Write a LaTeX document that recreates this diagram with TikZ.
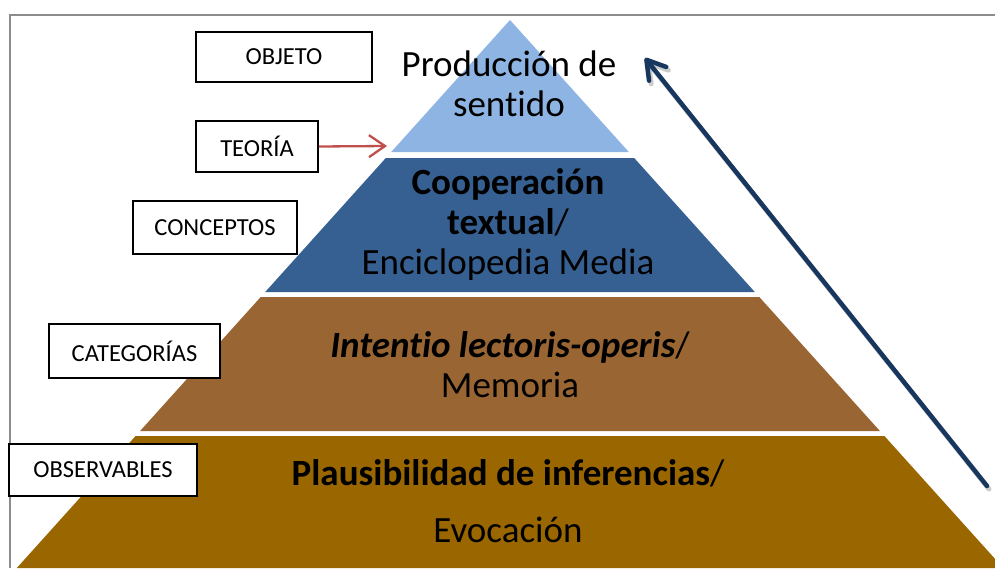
\documentclass[tikz,border=0pt]{standalone}
\usepackage{fontspec}
\setmainfont{Carlito}[Ligatures=NoCommon]
\usetikzlibrary{arrows.meta}
\definecolor{lblue}{HTML}{8DB4E2}
\definecolor{dblue}{HTML}{376092}
\definecolor{brownA}{HTML}{996633}
\definecolor{brownB}{HTML}{996600}
\definecolor{navy}{HTML}{17375E}
\definecolor{redA}{HTML}{C0504D}
\definecolor{frameg}{HTML}{8C8C8C}
\begin{document}
\begin{tikzpicture}[x=1pt,y=-1pt,
  lab/.style={draw=black, line width=1.5pt, fill=white, inner sep=0pt, font=\fontsize{24.5}{28}\selectfont},
  lvl/.style={align=center, font=\fontsize{37}{40}\selectfont, inner sep=0pt},
  framestyle/.style={frameg, line width=2pt},
  redarrow/.style={redA, line width=2.3pt, -{Straight Barb[length=16pt,width=22pt]}},
  bluearrow/.style={navy, line width=4.5pt, line cap=round, -{Straight Barb[length=18pt,width=22pt,round]}},
  shadowarrow/.style={black, opacity=0.2, line width=5pt, line cap=round, -{Straight Barb[length=18pt,width=22pt,round]}}]
\useasboundingbox (0,0) rectangle (995,568);
\draw[framestyle] (10,568) -- (10,15) -- (995,15);
\begin{scope}
\clip (0,0) rectangle (995,568);
\fill[lblue] (510,20) -- (391.2,152) -- (628.8,152) -- cycle;
\fill[dblue] (385.8,158) -- (634.2,158) -- (754.8,292) -- (265.2,292) -- cycle;
\fill[brownA] (260.7,297) -- (759.3,297) -- (879.9,431) -- (140.1,431) -- cycle;
\fill[brownB] (135.6,436) -- (884.4,436) -- (1003.2,568) -- (16.8,568) -- cycle;
\end{scope}
% level texts
\node[lvl] (t1) at (509,84) {Producción de\\sentido};
\node[lvl] (t2) at (508,224) {\textbf{Cooperación}\\\textbf{textual}/\\Enciclopedia Media};
\node[lvl] (t3) at (510,365) {\textbf{\textit{Intentio lectoris-operis}}/\\Memoria};
\node[lvl] (t4) at (508,501) {\textbf{Plausibilidad de inferencias}/\\[17pt]Evocación};
% label boxes
\node[lab, minimum width=176pt, minimum height=50pt] (objeto) at (284,57) {OBJETO};
\node[lab, minimum width=122pt, minimum height=51pt] (teoria) at (257,146.5) {TEORÍA};
\node[lab, minimum width=164pt, minimum height=53pt] (conceptos) at (215,227.5) {CONCEPTOS};
\node[lab, minimum width=171pt, minimum height=54pt] (categorias) at (134.5,351) {CATEGORÍAS};
\node[lab, minimum width=188pt, minimum height=52pt] (observables) at (103,470) {OBSERVABLES};
% arrows
\coordinate (rtip) at (387,146);
\draw[redarrow] (teoria.east) -- (rtip);
\coordinate (btail) at (987,486);
\coordinate (btip) at (645,58);
\coordinate (stail) at (989,489);
\coordinate (stip) at (647,61);
\draw[shadowarrow] (stail) -- (stip);
\draw[bluearrow] (btail) -- (btip);
\end{tikzpicture}
\end{document}
